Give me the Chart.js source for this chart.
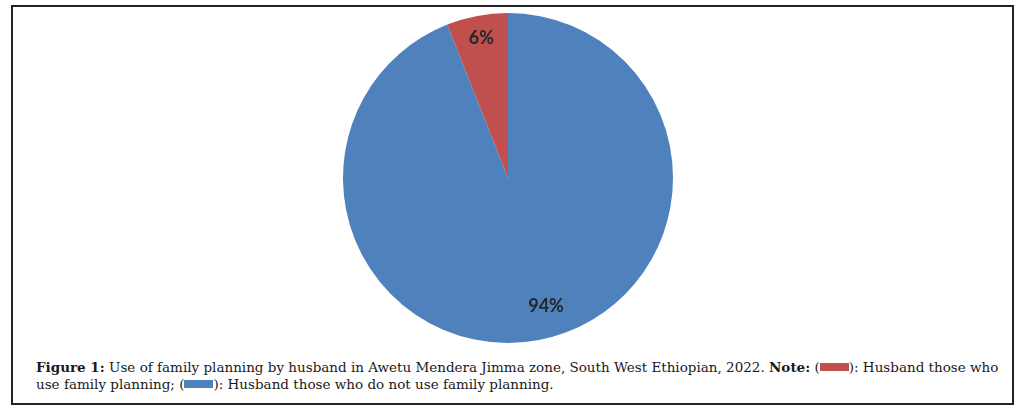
<!DOCTYPE html>
<html>
<head>
<meta charset="utf-8">
<script src="https://cdn.jsdelivr.net/npm/chart.js@4/dist/chart.umd.min.js"></script>
<style>
  body { margin: 0; background: #fff; width: 1020px; height: 412px; position: relative; overflow: hidden; }
  #frame { position: absolute; left: 11px; top: 5px; width: 999px; height: 396px; border: 2px solid #222; }
  #wrap { position: absolute; left: 0; top: 0; width: 1016px; height: 356px; }
  #caption { position: absolute; left: 36px; top: 359px; font-family: "DejaVu Serif", serif; font-size: 13.5px; line-height: 17px; color: #1a1a1a; white-space: nowrap; }
  .box { display: inline-block; width: 29px; height: 8px; vertical-align: 1px; }
</style>
</head>
<body>
<div id="frame"></div>
<div id="wrap"><canvas id="pieChartEl"></canvas></div>
<div id="caption">
  <b>Figure 1:</b> Use of family planning by husband in Awetu Mendera Jimma zone, South West Ethiopian, 2022. <b>Note:</b> (<span class="box" style="background:#C0504D"></span>): Husband those who<br>
  use family planning; (<span class="box" style="background:#4F81BD"></span>): Husband those who do not use family planning.
</div>
<script>
const categories = ['Husband those who do not use family planning', 'Husband those who use family planning']
const shares = [94, 6]
const sliceColors = ['#4F81BD', '#C0504D']

// puts the % text inside each slice, like the Excel original
const sliceLabels = {
  id: 'sliceLabels',
  afterDatasetsDraw: function (chart, args, opts) {
    const ctx = chart.ctx
    const arcs = chart.getDatasetMeta(0).data
    ctx.save()
    ctx.font = 'bold 18px Lato, "Open Sans", sans-serif'
    ctx.fillStyle = '#262626'
    ctx.textAlign = 'center'
    ctx.textBaseline = 'middle'
    arcs.forEach(function (arc, i) {
      const mid = (arc.startAngle + arc.endAngle) / 2 + opts.shift[i]
      const r = arc.outerRadius * opts.radius[i]
      ctx.fillText(shares[i] + '%', arc.x + Math.cos(mid) * r, arc.y + Math.sin(mid) * r)
    })
    ctx.restore()
  }
}

const pie = new Chart(document.getElementById('pieChartEl').getContext('2d'), {
  type: 'pie',
  data: {
    labels: categories,
    datasets: [
      {
        data: shares,
        backgroundColor: sliceColors,
        borderWidth: 0
      }
    ]
  },
  options: {
    responsive: true,
    maintainAspectRatio: false,
    animation: false,
    layout: { padding: { top: 13, bottom: 13 } },
    plugins: {
      legend: { display: false },
      tooltip: { enabled: false },
      sliceLabels: { radius: [0.81, 0.86], shift: [-0.1, 0] }
    }
  },
  plugins: [sliceLabels]
})
</script>
</body>
</html>
